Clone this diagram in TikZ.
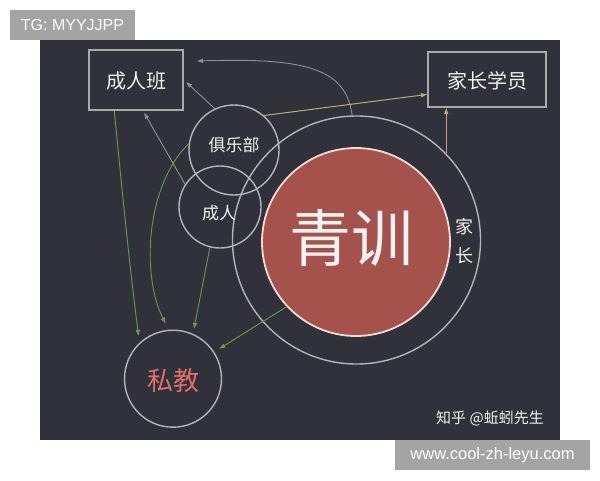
\documentclass[tikz,border=0pt]{standalone}
\usepackage{fontspec}
\setmainfont{Liberation Sans}
\newfontfamily\cjk{Noto Sans CJK SC}
\usetikzlibrary{arrows.meta,calc}
\definecolor{bgdark}{HTML}{30313B}
\definecolor{chalk}{HTML}{B4B4BA}
\definecolor{boxline}{HTML}{A9A9AE}
\definecolor{redfill}{HTML}{A6524C}
\definecolor{redline}{HTML}{F0DCD4}
\definecolor{arrgrey}{HTML}{8E909C}
\definecolor{arrgreen}{HTML}{6C9A4A}
\definecolor{arryellow}{HTML}{B9AE72}
\definecolor{labelgrey}{HTML}{A4A4A4}
\definecolor{sjred}{HTML}{E2706A}
\definecolor{txtwhite}{HTML}{F2F2F2}
\begin{document}
\begin{tikzpicture}[x=1pt,y=-1pt,
  chalkbox/.style={draw=boxline, line width=2pt, inner sep=0pt, text=txtwhite},
  chalkcircle/.style={draw=chalk, line width=1.4pt, circle, inner sep=0pt},
  cjktext/.style={text=txtwhite, inner sep=0pt},
  tip/.style={-{Triangle[length=6pt,width=4pt]}},
  greyarrow/.style={tip, draw=arrgrey, line width=0.9pt},
  greenarrow/.style={tip, draw=arrgreen, line width=0.9pt},
  yellowarrow/.style={tip, draw=arryellow, line width=1pt},
  tag/.style={fill=labelgrey, text=white, inner sep=0pt}
]
\useasboundingbox (0,0) rectangle (600,480);
\fill[white] (0,0) rectangle (600,480);
\fill[bgdark] (40,40) rectangle (560,440);

% labels
\node[tag, minimum width=125pt, minimum height=30pt] (tg) at (72.5,25)
  {\fontsize{16}{18}\selectfont TG: MYYJJPP};
\node[tag, minimum width=195pt, minimum height=30pt] (www) at (492.5,455)
  {\fontsize{16.5}{18}\selectfont www.cool-zh-leyu.com};

% boxes
\node[chalkbox, minimum width=94pt, minimum height=60pt] (crb) at (136,80) {};
\node[cjktext] (crbt) at (136,81) {\cjk\fontsize{20}{24}\selectfont 成人班};
\node[chalkbox, minimum width=118pt, minimum height=55pt] (gy) at (487,79.5) {};
\node[cjktext] (gyt) at (487,81) {\cjk\fontsize{20}{24}\selectfont 家长学员};

% circles
\node[chalkcircle, minimum size=248pt] (big) at (356.5,240) {};
\node[circle, fill=redfill, draw=redline, line width=1.8pt, minimum size=188pt, inner sep=0pt] (red) at (356,242) {};
\node[cjktext] (qx) at (351,238) {\cjk\fontsize{62}{70}\selectfont 青训};
\node[cjktext] (jia) at (464,227) {\cjk\fontsize{18}{20}\selectfont 家};
\node[cjktext] (zhang) at (464,256) {\cjk\fontsize{18}{20}\selectfont 长};
\node[chalkcircle, minimum size=90pt] (club) at (234,150) {};
\node[cjktext] (clubt) at (234,145) {\cjk\fontsize{17}{20}\selectfont 俱乐部};
\node[chalkcircle, minimum size=82pt] (adult) at (220,207) {};
\node[cjktext] (adultt) at (219,213) {\cjk\fontsize{17}{20}\selectfont 成人};
\node[chalkcircle, minimum size=97pt] (sj) at (173,378.7) {};
\node[inner sep=0pt, text=sjred] (sjt) at (173,381) {\cjk\fontsize{26}{30}\selectfont 私教};

\node[text=txtwhite, inner sep=0pt] (zh) at (490,418) {\cjk\fontsize{15}{18}\selectfont 知乎 @蚯蚓先生};

\coordinate (toptip) at (197,61);

% grey arrows
\draw[greyarrow] (big.92) .. controls (346,66) and (300,58) .. (toptip);
\draw[greyarrow, shorten >=3pt] (club.115) -- (crb.east);
\draw[greyarrow, shorten >=2pt] (adult.147) -- (crb.283);

% yellow arrows
\draw[yellowarrow] (club.49) -- (gy.194);
\draw[yellowarrow] (big.44.5) -- (big.44.5 |- gy.south);

% green arrows
\draw[greenarrow, shorten >=7pt] (crb.235) .. controls (122,190) and (130,270) .. (sj.133);
\draw[greenarrow, shorten >=7pt] (club.172) .. controls (146,185) and (141,275) .. (sj.95);
\draw[greenarrow, shorten >=5pt] (adult.256) -- (sj.66);
\draw[greenarrow, shorten >=6pt] (red.223) -- (sj.33);
\end{tikzpicture}
\end{document}
